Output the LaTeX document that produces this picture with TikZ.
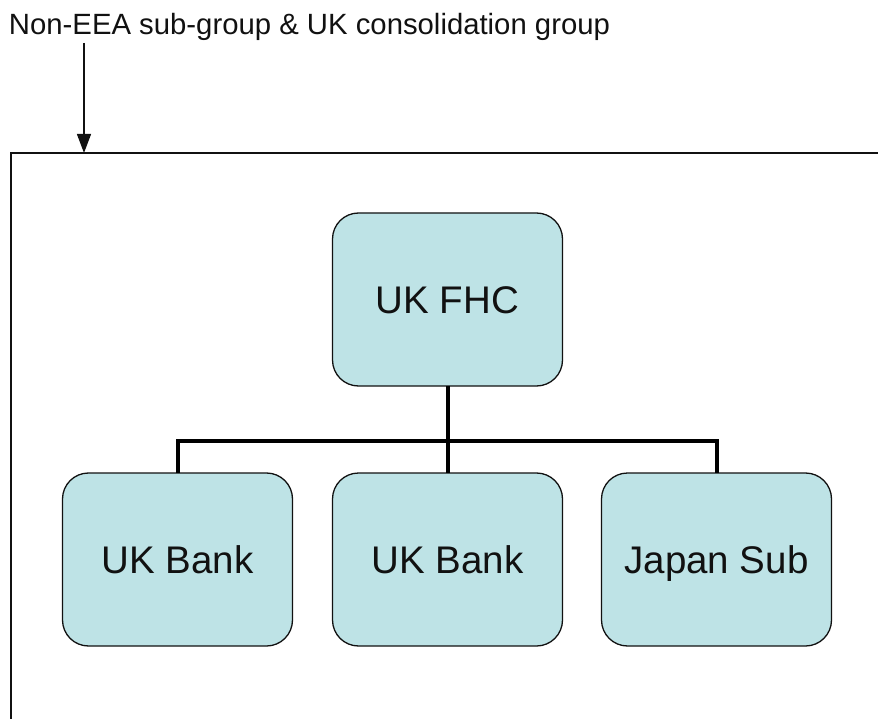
\documentclass[tikz,border=0pt]{standalone}
\usepackage{fontspec}
\setmainfont{Liberation Sans}
\usepackage{tikz}
\usetikzlibrary{arrows.meta, positioning}
\definecolor{orgcyan}{RGB}{190,227,230}
\definecolor{orgblack}{HTML}{111111}

\begin{document}
\begin{tikzpicture}[
        x=1pt, y=-1pt,
        every node/.style={align=center, inner sep=0pt, outer sep=0pt},
        % ============= Estilos =============
        orgbox/.style={rectangle, rounded corners=26pt, draw=orgblack, line width=1.3pt,
                       fill=orgcyan, minimum width=230pt, minimum height=173pt,
                       text height=27pt, text depth=0pt,
                       font=\fontsize{38.5}{41}\selectfont, text=orgblack},
        grouplabel/.style={font=\fontsize{29.3}{31}\selectfont, text=orgblack, anchor=west},
        framelin/.style={draw=orgblack, line width=1.3pt},
        linkline/.style={draw=black, line width=4pt},
        grouparrow/.style={-{Triangle[length=19pt,width=14pt]}, draw=orgblack, line width=1.3pt}
    ]
        \useasboundingbox (0,0) rectangle (878,719);

        % ===== Marco del grupo =====
        \coordinate (frameNE) at (878,153);
        \coordinate (frameNW) at (11,153);
        \coordinate (frameSW) at (11,719);
        \draw[framelin] (frameNE) -- (frameNW) -- (frameSW);

        % ===== Etiqueta y flecha =====
        \node[grouplabel] (glabel) at (9,27) {Non-EEA sub-group \& UK consolidation group};
        \coordinate (arrtop) at (84,43);
        \draw[grouparrow] (arrtop) -- (arrtop |- frameNW);

        % ===== Cajas =====
        \node[orgbox] (fhc) at (447.5,299.5) {UK FHC};
        \node[orgbox] (bankA) at (177.5,559.5) {UK Bank};
        \node[orgbox] (bankB) at (447.5,559.5) {UK Bank};
        \node[orgbox] (subC) at (716.5,559.5) {Japan Sub};

        % ===== Conectores =====
        \draw[linkline] (fhc.south) -- (bankB.north);
        \draw[linkline] (bankA.north) -- ++(0,-32) -| (subC.north);
    \end{tikzpicture}
\end{document}
